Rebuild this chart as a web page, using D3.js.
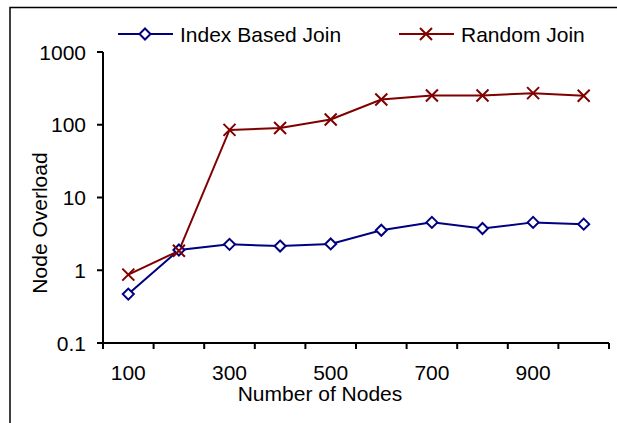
<!DOCTYPE html>
<html>
<head>
<meta charset="utf-8">
<script src="https://cdn.jsdelivr.net/npm/d3@7"></script>
<style>
  body { margin: 0; background: #fff; }
  text { font-family: Arial, "Liberation Sans", sans-serif; fill: #000; }
</style>
</head>
<body>
<svg width="617" height="423"></svg>
<script>
/* data */
var nodes = [100, 200, 300, 400, 500, 600, 700, 800, 900, 1000];
var indexJoin = [0.47, 1.9, 2.27, 2.15, 2.3, 3.55, 4.55, 3.75, 4.55, 4.3];
var randomJoin = [0.87, 1.85, 85, 90, 118, 222, 252, 252, 272, 250];
var yTicks = [0.1, 1, 10, 100, 1000];
var xLabels = [100, 300, 500, 700, 900];

var svg = d3.select("svg"),
    margin = {top: 52, right: 8, bottom: 80, left: 103},
    width = 609 - margin.left,
    height = 343 - margin.top,
    fontSize = 21;

/* outer frame, only left and top edges are visible */
svg.append("path")
    .attr("d", "M10,423V7.5H617")
    .attr("fill", "none")
    .attr("stroke", "#000")
    .attr("stroke-width", 1.5);

var x = d3.scaleBand().domain(nodes).range([0, width]),
    y = d3.scaleLog().domain([0.1, 1000]).range([height, 0]);

var g = svg.append("g")
    .attr("transform", "translate(" + margin.left + "," + margin.top + ")");

/* x axis: ticks between categories, every other label */
var xAxis = g.append("g")
    .attr("transform", "translate(0," + height + ")");
xAxis.append("line")
    .attr("x1", 0).attr("x2", width)
    .attr("stroke", "#000").attr("stroke-width", 2);
xAxis.selectAll(".tick")
    .data(d3.range(nodes.length + 1))
    .enter().append("line")
    .attr("x1", function(i) { return i * x.step(); })
    .attr("x2", function(i) { return i * x.step(); })
    .attr("y1", 0).attr("y2", 6)
    .attr("stroke", "#000").attr("stroke-width", 2);
xAxis.selectAll(".lbl")
    .data(xLabels)
    .enter().append("text")
    .attr("x", function(d) { return x(d) + x.bandwidth() / 2; })
    .attr("y", 37)
    .attr("text-anchor", "middle")
    .attr("font-size", fontSize)
    .text(function(d) { return d; });

/* y axis */
var yAxis = g.append("g");
yAxis.append("line")
    .attr("y1", 0).attr("y2", height)
    .attr("stroke", "#000").attr("stroke-width", 2);
yAxis.selectAll(".tick")
    .data(yTicks)
    .enter().append("line")
    .attr("x1", -6).attr("x2", 0)
    .attr("y1", function(d) { return y(d); })
    .attr("y2", function(d) { return y(d); })
    .attr("stroke", "#000").attr("stroke-width", 2);
yAxis.selectAll(".lbl")
    .data(yTicks)
    .enter().append("text")
    .attr("x", -17)
    .attr("y", function(d) { return y(d); })
    .attr("dy", "0.36em")
    .attr("text-anchor", "end")
    .attr("font-size", fontSize)
    .text(function(d) { return d; });

/* axis titles */
svg.append("text")
    .attr("x", 320).attr("y", 401)
    .attr("text-anchor", "middle")
    .attr("font-size", fontSize)
    .text("Number of Nodes");
svg.append("text")
    .attr("transform", "translate(47,223) rotate(-90)")
    .attr("text-anchor", "middle")
    .attr("font-size", fontSize)
    .text("Node Overload");

var cx = function(d, i) { return x(nodes[i]) + x.bandwidth() / 2; };
var line = d3.line()
    .x(cx)
    .y(function(d) { return y(d); });

function diamond(sel) {
  sel.attr("d", "M0,-5.5L5.5,0L0,5.5L-5.5,0Z")
    .attr("fill", "#fff")
    .attr("stroke", "#000080")
    .attr("stroke-width", 2);
}
function cross(sel) {
  sel.attr("d", "M-6,-6L6,6M-6,6L6,-6")
    .attr("fill", "none")
    .attr("stroke", "#800000")
    .attr("stroke-width", 2);
}

/* series lines and markers */
g.append("path").datum(indexJoin)
    .attr("d", line)
    .attr("fill", "none").attr("stroke", "#000080").attr("stroke-width", 2);
g.append("path").datum(randomJoin)
    .attr("d", line)
    .attr("fill", "none").attr("stroke", "#800000").attr("stroke-width", 2);

g.selectAll(".dia")
    .data(indexJoin)
    .enter().append("path")
    .attr("transform", function(d, i) { return "translate(" + cx(d, i) + "," + y(d) + ")"; })
    .call(diamond);
g.selectAll(".crs")
    .data(randomJoin)
    .enter().append("path")
    .attr("transform", function(d, i) { return "translate(" + cx(d, i) + "," + y(d) + ")"; })
    .call(cross);

/* legend */
var legend = svg.append("g");
var l1 = legend.append("g").attr("transform", "translate(118,34)");
l1.append("line").attr("x1", 0).attr("x2", 55)
    .attr("stroke", "#000080").attr("stroke-width", 2);
l1.append("path").attr("transform", "translate(27,0)").call(diamond);
l1.append("text").attr("x", 62).attr("dy", "0.36em")
    .attr("font-size", fontSize).text("Index Based Join");

var l2 = legend.append("g").attr("transform", "translate(399,34)");
l2.append("line").attr("x1", 0).attr("x2", 55)
    .attr("stroke", "#800000").attr("stroke-width", 2);
l2.append("path").attr("transform", "translate(27,0)").call(cross);
l2.append("text").attr("x", 62).attr("dy", "0.36em")
    .attr("font-size", fontSize).text("Random Join");
</script>
</body>
</html>
